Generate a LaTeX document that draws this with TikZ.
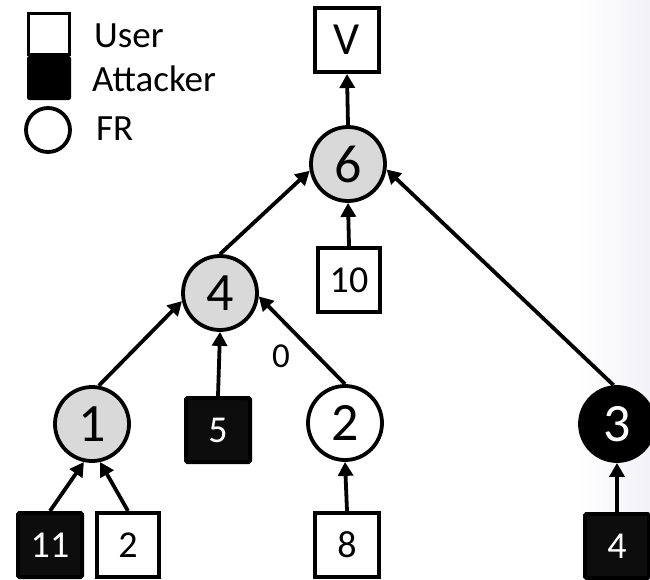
\documentclass[tikz,border=0pt]{standalone}
\usepackage{fontspec}
\setmainfont{Carlito}
\usetikzlibrary{arrows.meta,positioning}

\tikzset{
  fr/.style={circle, draw=black, line width=3.8pt, minimum size=74pt, inner sep=0pt,
             font=\fontsize{54}{60}\selectfont},
  frgray/.style={fr, fill=black!15},
  frwhite/.style={fr, fill=white},
  frblack/.style={fr, fill=black, text=white},
  user/.style={rectangle, draw=black, line width=4pt, fill=white, minimum width=64pt,
               minimum height=64pt, inner sep=0pt, font=\fontsize{38}{44}\selectfont},
  attacker/.style={user, fill=black!95, rounded corners=1.5pt, text=white},
  arr/.style={line width=3.8pt, -{Triangle[length=14pt,width=15pt]}},
  legtext/.style={anchor=west, inner sep=0pt, font=\fontsize{37}{42}\selectfont},
  elabel/.style={inner sep=0pt, font=\fontsize{35}{40}\selectfont},
}

\begin{document}
\begin{tikzpicture}[x=1pt, y=-1pt]
  \useasboundingbox (0,0) rectangle (650,579);
  % soft grey band along the right margin
  \shade[left color=white, right color={rgb,255:red,243;green,243;blue,247}]
    (572,0) rectangle (650,579);

  % legend
  \node[rectangle, draw=black, line width=3.8pt, fill=white, minimum size=41pt, inner sep=0pt] (lu) at (49,34) {};
  \node[rectangle, draw=black, line width=1pt, fill=black, rounded corners=2pt, minimum size=43pt, inner sep=0pt] (la) at (49,78) {};
  \node[circle, draw=black, line width=3.8pt, fill=white, minimum size=44pt, inner sep=0pt] (lf) at (48,130) {};
  \node[legtext] (tu) at (94,36) {User};
  \node[legtext] (ta) at (92,79) {Attacker};
  \node[legtext] (tf) at (96,129) {FR};

  % tree nodes
  \node[user, font=\fontsize{46}{52}\selectfont] (v) at (347,40) {V};
  \node[frgray] (n6) at (348,164) {6};
  \node[user, minimum width=62pt] (b10) at (349,280) {10};
  \node[frgray] (n4) at (220,293) {4};
  \node[frgray] (n1) at (92,424) {1};
  \node[attacker] (b5) at (218,430) {5};
  \node[frwhite] (n2) at (345,423) {2};
  \node[frblack] (n3) at (617,424) {3};
  \node[attacker] (b11) at (50,545) {11};
  \node[user, minimum width=62pt] (b2) at (128,545) {2};
  \node[user] (b8) at (347,545) {8};
  \node[attacker] (b4) at (617,546) {4};

  % connectors
  \draw[arr] (n6.north) -- (v.south);
  \draw[arr] (b10.north) -- (n6.south);
  \draw[arr] (n4.north) -- (n6.190);
  \draw[arr] (n3.95) -- (n6.352);
  \draw[arr] (n1.80) -- (n4.192);
  \draw[arr] (b5.north) -- (n4.south);
  \draw[arr] (n2.north) -- (n4.355)
    node[elabel, midway, shift={(-21pt,-16pt)}] (l0) {0};
  \draw[arr] (b11.north) -- (n1.258);
  \draw[arr] (b2.north) -- (n1.282);
  \draw[arr] (b8.north) -- (n2.south);
  \draw[arr] (b4.north) -- (n3.south);
\end{tikzpicture}
\end{document}
